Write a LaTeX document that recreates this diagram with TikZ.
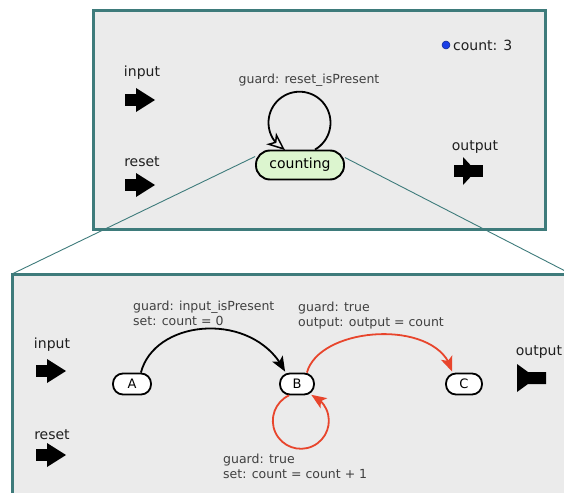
\documentclass[tikz,border=0pt]{standalone}
\usepackage{fontspec}
\setmainfont{DejaVu Sans}
\usetikzlibrary{arrows.meta,bending}
\definecolor{frameteal}{HTML}{3E7B7B}
\definecolor{panelgray}{HTML}{EBEBEB}
\definecolor{stategreen}{HTML}{DCF5CF}
\definecolor{transred}{HTML}{E8452C}
\definecolor{dotblue}{HTML}{1A3FE6}

\begin{document}
\begin{tikzpicture}[x=1pt,y=-1pt,
  panel/.style={draw=frameteal, line width=3pt, fill=panelgray},
  zoomline/.style={draw=frameteal, line width=0.9pt},
  portlabel/.style={font=\fontsize{14}{16}\selectfont, text=black!88, inner sep=0pt},
  guardlabel/.style={font=\fontsize{12.5}{14.5}\selectfont, text=black!75, align=left, inner sep=0pt, anchor=north west},
  statebox/.style={draw=black, line width=1.8pt, fill=white, rounded corners=10pt,
    minimum width=36pt, minimum height=21pt, inner sep=0pt, font=\fontsize{13}{14}\selectfont},
  blackarc/.style={draw=black, line width=1.8pt, -{Stealth[length=15pt,width=12pt,inset=3.5pt,flex]}},
  redarc/.style={draw=transred, line width=1.8pt, -{Stealth[length=15pt,width=12pt,inset=3.5pt,flex]}},
  inport/.pic={
    \fill[black] (-15,-6) rectangle (-3,6);
    \fill[black] (-4,-12) -- (15,0) -- (-4,12) -- cycle;},
  outport/.pic={
    \fill[black] (-14,-6) rectangle (15,6);
    \fill[black] (-5,-14) -- (8,0) -- (-5,14) -- cycle;},
  outportfunnel/.pic={
    \fill[black] (-14,-14) -- (-3,-6) -- (15,-6) -- (15,6) -- (-3,6) -- (-14,14) -- cycle;}
]
\useasboundingbox (0,0) rectangle (564,492);
\clip (0,0) rectangle (564,492);

% ---------- outer actor ----------
\path[panel] (93,11) rectangle (545,229);

% ---------- refinement panel ----------
\path[panel] (12,274) rectangle (580,520);
\coordinate (zoomTL) at (12,274);
\coordinate (zoomTR) at (571,274);

% ports of the outer actor
\node[portlabel] (inlabel) at (142,73) {input};
\pic at (140,100) {inport};
\node[portlabel] (resetlabel) at (142,162) {reset};
\pic at (140,185) {inport};
\node[portlabel] (outlabel) at (475,147) {output};
\pic at (468,171) {outport};

% state variable display
\node[circle, fill=dotblue, draw=dotblue!60!black, line width=0.5pt, inner sep=0pt, minimum size=8pt] (cdot) at (446,45) {};
\node[portlabel, anchor=west] (countval) at (453,45) {count: 3};

% the single state of the outer machine
\node[draw=black, line width=1.9pt, fill=stategreen, rounded corners=14pt,
      minimum width=88pt, minimum height=29pt, inner sep=0pt,
      font=\fontsize{14}{16}\selectfont] (counting) at (300,165) {counting};
\node[guardlabel, anchor=center] (resetguard) at (309,80) {guard: reset\_isPresent};
\draw[line width=1.8pt, -{Stealth[open, length=18pt, width=15pt, inset=5pt, line width=1.5pt, flex]}]
  ([xshift=15pt]counting.north) arc[start angle=-60, end angle=242, radius=31pt];

% zoom lines from the state to its refinement
\draw[zoomline] ([yshift=-7pt]counting.north west) -- (zoomTL);
\draw[zoomline] ([yshift=-8pt]counting.north east) -- (zoomTR);

% ports of the refinement
\node[portlabel] (rinlabel) at (52,345) {input};
\pic at (51,371) {inport};
\node[portlabel] (rresetlabel) at (52,435) {reset};
\pic at (51,455) {inport};
\node[portlabel] (routlabel) at (539,352) {output};
\pic at (531,378) {outportfunnel};

% states of the refinement
\node[statebox, minimum width=38pt] (A) at (132,384) {A};
\node[statebox, minimum width=34pt] (B) at (297,384) {B};
\node[statebox] (C) at (464,384) {C};

% transitions
\draw[blackarc] ([xshift=-11pt]A.north east) .. controls (155,318) and (255,310) .. ([xshift=6pt,yshift=1pt]B.north west);
\draw[redarc] ([xshift=-8pt]B.north east) .. controls (320,325) and (440,318) .. ([xshift=7pt,yshift=1pt]C.north west);
\draw[redarc] ([xshift=-8pt]B.south) arc[start angle=115, end angle=428, radius=28pt];

% transition labels
\node[guardlabel] (abguard) at (133,301) {guard: input\_isPresent\\set: count = 0};
\node[guardlabel] (bcguard) at (298,302) {guard: true\\output: output = count};
\node[guardlabel] (bbguard) at (223,454) {guard: true\\set: count = count + 1};
\end{tikzpicture}
\end{document}
